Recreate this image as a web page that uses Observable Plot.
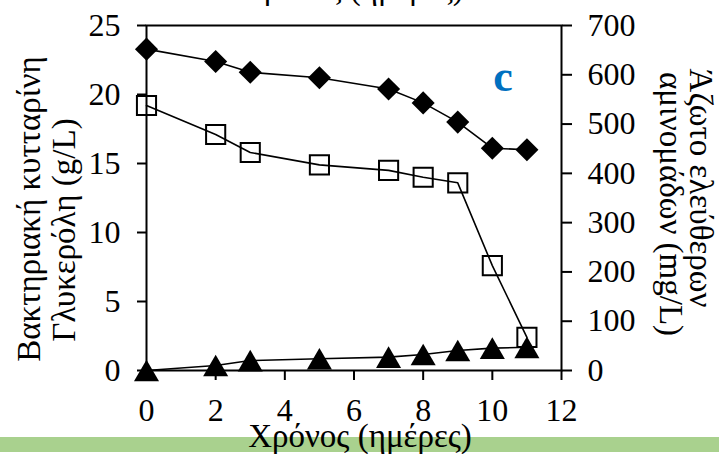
<!DOCTYPE html>
<html>
<head>
<meta charset="utf-8">
<script src="https://cdn.jsdelivr.net/npm/d3@7"></script>
<script src="https://cdn.jsdelivr.net/npm/@observablehq/plot@0.6"></script>
<style>
  html, body { margin: 0; padding: 0; background: #fff; }
  #chart svg { display: block; }
</style>
</head>
<body>
<div id="chart"></div>
<script>
// ---- Data ----
const days = [0, 2, 3, 5, 7, 8, 9, 10, 11];
const glycerol = [19.2, 17.1, 15.8, 14.9, 14.5, 14.0, 13.6, 7.6, 2.4];      // g/L, open squares (left axis)
const cellulose = [0, 0.36, 0.72, 0.85, 0.97, 1.16, 1.45, 1.62, 1.68];     // g/L, filled triangles (left axis)
const aminoN = [652, 627, 605, 594, 571, 543, 504, 451, 448];             // mg/L, filled diamonds (right axis)

const xTicks = [0, 2, 4, 6, 8, 10, 12];
const leftTicks = [0, 5, 10, 15, 20, 25];
const rightTicks = [0, 100, 200, 300, 400, 500, 600, 700];

const xTitle = "Χρόνος (ημέρες)";
const leftTitle = ["Βακτηριακή κυτταρίνη", "Γλυκερόλη (g/L)"];
const rightTitle = ["Άζωτο ελεύθερων", "αμινομάδων (mg/L)"];
const panelLetter = "c";

const RATIO = 700 / 25; // right-axis units per left-axis unit

const rows = days.map((d, i) => ({
  day: d, glycerol: glycerol[i], cellulose: cellulose[i], amino: aminoN[i]
}));

const FONT = "'Liberation Serif', 'Times New Roman', serif";

const chart = Plot.plot({
  width: 719,
  height: 454,
  marginLeft: 146,
  marginRight: 158,
  marginTop: 25,
  marginBottom: 84,
  style: { fontFamily: FONT, fontSize: "32px", color: "black", background: "white", overflow: "visible" },
  x: { domain: [0, 12] },
  y: { domain: [0, 25] },
  marks: [
    Plot.frame({ stroke: "black", strokeWidth: 2 }),
    Plot.axisX({ ticks: xTicks, tickSize: 10, tickPadding: 18, strokeWidth: 2, label: null }),
    Plot.axisY({ ticks: leftTicks, tickSize: 9, tickPadding: 17, strokeWidth: 2, label: null }),
    Plot.axisY({
      anchor: "right",
      ticks: rightTicks.map(v => v / RATIO),
      tickFormat: d => Math.round(d * RATIO),
      tickSize: 10, tickPadding: 16, strokeWidth: 2, label: null
    }),
    Plot.line(rows, { x: "day", y: d => d.amino / RATIO, stroke: "black", strokeWidth: 1.6 }),
    Plot.line(rows, { x: "day", y: "glycerol", stroke: "black", strokeWidth: 1.6 }),
    Plot.line(rows, { x: "day", y: "cellulose", stroke: "black", strokeWidth: 1.6 }),
    Plot.dot(rows, { x: "day", y: d => d.amino / RATIO, symbol: "diamond2", r: 10.4, fill: "black", stroke: "none" }),
    Plot.dot(rows, { x: "day", y: "glycerol", symbol: "square", r: 10.8, fill: "none", stroke: "black", strokeWidth: 2 }),
    Plot.dot(rows, { x: "day", y: "cellulose", symbol: "triangle", r: 9.3, fill: "black", stroke: "none", dy: 3.6 })
  ]
});

const svg = d3.select(chart);

// green band at the bottom (behind the x title)
svg.insert("rect", ":first-child")
  .attr("x", 0).attr("y", 437).attr("width", 719).attr("height", 15)
  .attr("fill", "#a9d18e");
svg.insert("rect", ":first-child")
  .attr("x", 0).attr("y", 0).attr("width", 719).attr("height", 454)
  .attr("fill", "white");

const txt = (x, y, s, opts = {}) => svg.append("text")
  .attr("transform", `translate(${x},${y})` + (opts.rotate ? ` rotate(${opts.rotate})` : ""))
  .attr("text-anchor", opts.anchor || "middle")
  .attr("dominant-baseline", opts.baseline || "auto")
  .attr("font-family", FONT)
  .style("font-family", FONT)
  .style("font-size", (opts.size || 33) + "px")
  .style("font-weight", opts.weight || "normal")
  .attr("fill", opts.fill || "black")
  .text(s);

// clipped title of the chart above
txt(352, -1, xTitle, { size: 33 });
// x title
txt(360, 447, xTitle, { size: 33 });
// left title (two lines)
txt(29, 209, leftTitle[0], { rotate: -90, baseline: "central" });
txt(64, 230, leftTitle[1], { rotate: -90, baseline: "central" });
// right title (two lines)
txt(701, 188, rightTitle[0], { rotate: 90, baseline: "central" });
txt(671, 204, rightTitle[1], { rotate: 90, baseline: "central" });
// panel letter
txt(503, 91, panelLetter, { size: 44, weight: "bold", fill: "#0070c0" });

document.getElementById("chart").appendChild(chart);
</script>
</body>
</html>
